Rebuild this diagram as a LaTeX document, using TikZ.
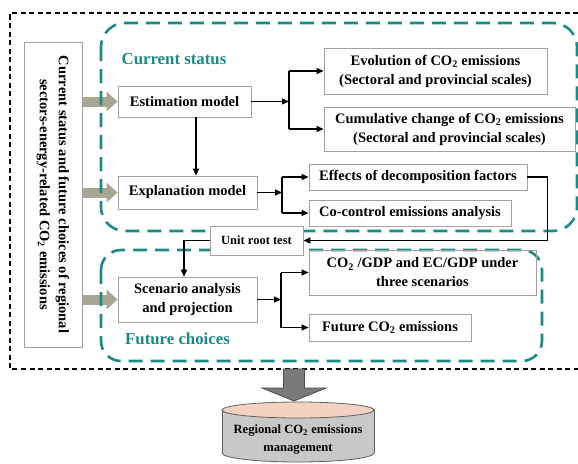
\documentclass[tikz,border=0pt]{standalone}
\usepackage{fontspec}
\setmainfont{Liberation Serif}
\usetikzlibrary{arrows.meta,calc,backgrounds}
\definecolor{tealc}{HTML}{1A8A85}
\definecolor{garrow}{HTML}{A8A593}
\definecolor{boxline}{HTML}{A0A0A0}
\definecolor{cylbody}{HTML}{C8C8C8}
\definecolor{cyltop}{HTML}{F3D2C2}
\definecolor{cylline}{HTML}{606060}
\definecolor{bigarrow}{HTML}{7A7A7A}
\newcommand{\cotwo}{CO\textsubscript{2}}
\begin{document}
\begin{tikzpicture}[x=1pt,y=-1pt,
  box/.style={draw=boxline, line width=0.8pt, inner sep=0pt, align=center,
              font=\fontsize{14.5}{19}\selectfont\bfseries},
  conn/.style={line width=1.2pt, -{Triangle[length=7pt,width=6pt]}},
  plainline/.style={line width=1.2pt},
  tealbox/.style={draw=tealc, line width=2.6pt, dash pattern=on 14pt off 8pt},
  outerbox/.style={draw=black, line width=1.3pt, dash pattern=on 5pt off 3.5pt},
  thickgray/.style={draw=garrow, line width=10pt, -{Triangle[length=11pt,width=19pt]}},
  lbl/.style={text=tealc, font=\fontsize{16.8}{20}\selectfont\bfseries}
]
\useasboundingbox (0,0) rectangle (578,463);

% outer dashed frame (open on the right)
\draw[outerbox] (578,13) -- (10,13) -- (10,369) -- (578,369);

% teal dashed groups
\draw[tealbox, rounded corners=24pt] (101,23) rectangle (577,231);
\draw[tealbox, rounded corners=20pt] (101,250) rectangle (542,361);

% labels
\node[lbl] (cs) at (174,59) {Current status};
\node[lbl] (fc) at (177.5,339) {Future choices};

% left source box
\node[box, minimum width=58pt, minimum height=305pt] (src) at (53,194.5) {};
\node[rotate=-90, align=center, inner sep=0pt, font=\fontsize{14.5}{19}\selectfont\bfseries] (srctext) at (src.center)
  {Current status and future choices of regional\\sectors-energy-related \cotwo{} emissions};

% model boxes
\node[box, minimum width=133pt, minimum height=31pt] (est) at (184.5,101.5) {Estimation model};
\node[box, minimum width=139pt, minimum height=33pt] (expl) at (187.5,192.5) {Explanation model};
\node[box, minimum width=139pt, minimum height=45pt] (scen) at (187.5,299.5) {Scenario analysis\\and projection};

% result boxes
\node[box, minimum width=223pt, minimum height=46pt] (evo) at (435.5,71) {Evolution of \cotwo{} emissions\\(Sectoral and provincial scales)};
\node[box, minimum width=251pt, minimum height=44pt] (cum) at (449.5,129) {Cumulative change of \cotwo{} emissions\\(Sectoral and provincial scales)};
\node[box, minimum width=218pt, minimum height=26pt] (eff) at (418,177) {Effects of decomposition factors};
\node[box, minimum width=202pt, minimum height=26pt] (coc) at (410,213) {Co-control emissions analysis};
\node[box, minimum width=227pt, minimum height=45pt] (gdp) at (422.5,272.5) {\cotwo{} /GDP and EC/GDP under\\three scenarios};
\node[box, minimum width=162pt, minimum height=27pt] (fut) at (390,327.5) {Future \cotwo{} emissions};

% unit root test (covers teal dashes)
\node[box, fill=white, minimum width=93pt, minimum height=29pt, font=\fontsize{12.5}{15}\selectfont\bfseries] (urt) at (256.5,240.5) {Unit root test};

% connectors: estimation
\coordinate (j1) at (289,0);
\draw[plainline] (j1 |- evo.west) -- (j1 |- cum.west);
\draw[conn] (est.east) -- (j1 |- est.east);
\draw[conn] (j1 |- evo.west) -- (evo.west);
\draw[conn] (j1 |- cum.west) -- (cum.west);
\draw[conn] ([xshift=11.5pt]est.south) -- ([xshift=11.5pt]est.south |- expl.north);

% connectors: explanation
\coordinate (j2) at (282,0);
\draw[plainline] (j2 |- eff.west) -- (j2 |- coc.west);
\draw[conn] (expl.east) -- (j2 |- expl.east);
\draw[conn] (j2 |- eff.west) -- (eff.west);
\draw[conn] (j2 |- coc.west) -- (coc.west);

% feedback to unit root test and to scenario
\draw[line width=1.8pt, -{Triangle[length=7pt,width=6pt]}] (eff.east) -- ++(20,0) |- (urt.east);
\draw[conn] (urt.west) -| ([xshift=-3.5pt]scen.north);

% connectors: scenario
\coordinate (j3) at (281,0);
\draw[plainline] (j3 |- gdp.west) -- (j3 |- fut.west);
\draw[conn] (scen.east) -- (j3 |- scen.east);
\draw[conn] (j3 |- gdp.west) -- (gdp.west);
\draw[conn] (j3 |- fut.west) -- (fut.west);

% thick gray arrows (behind teal dashes)
\begin{pgfonlayer}{background}
\draw[thickgray] (src.east |- est.west) -- (est.west);
\draw[thickgray] (src.east |- expl.west) -- (expl.west);
\draw[thickgray] (src.east |- scen.west) -- (scen.west);
\end{pgfonlayer}

% cylinder
\filldraw[fill=cylbody, draw=cylline, line width=0.8pt] (298,453) ellipse [x radius=76, y radius=9];
\fill[cylbody] (222,410) rectangle (374,453);
\draw[cylline, line width=0.8pt] (222,410) -- (222,453) (374,410) -- (374,453);
\filldraw[fill=cyltop, draw=cylline, line width=0.8pt] (298,410) ellipse [x radius=76, y radius=8];
\node[align=center, inner sep=0pt, font=\fontsize{12.6}{18}\selectfont\bfseries] (mgmt) at (298,440)
  {Regional \cotwo{} emissions\\management};

% big down arrow
\coordinate (ba) at (294,369);
\filldraw[fill=bigarrow, draw=black!70, line width=0.8pt]
  ($(ba)+(-10.5,0)$) -- ($(ba)+(10.5,0)$) -- ($(ba)+(10.5,19)$) -- ($(ba)+(32,19)$)
  -- ($(ba)+(0,32)$) -- ($(ba)+(-32,19)$) -- ($(ba)+(-10.5,19)$) -- cycle;
\end{tikzpicture}
\end{document}
